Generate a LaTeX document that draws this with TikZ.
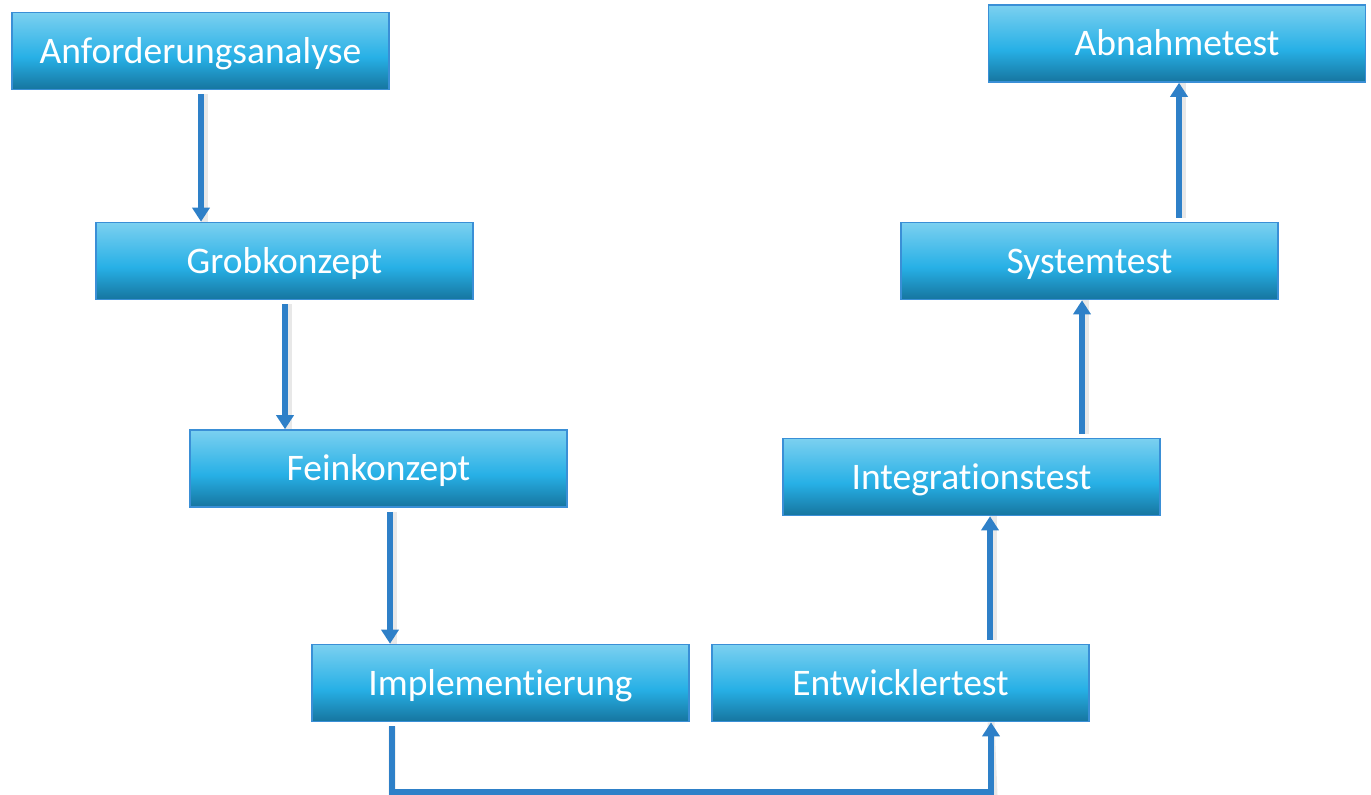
\documentclass[tikz,border=0pt]{standalone}
\usepackage{fontspec}
\setmainfont[Ligatures=NoCommon]{Carlito}
\usetikzlibrary{arrows.meta}
\definecolor{boxtop}{HTML}{7BD0F0}
\definecolor{boxmid}{HTML}{27B0E6}
\definecolor{boxbot}{HTML}{16759F}
\definecolor{boxline}{HTML}{3A8FD6}
\definecolor{flow}{HTML}{2E80C8}
% vertical fill of the stage boxes: light top, bright middle, darker base
\pgfdeclareverticalshading{stagefill}{100bp}{color(0bp)=(boxbot); color(25bp)=(boxbot);
  color(46bp)=(boxmid); color(75bp)=(boxtop); color(100bp)=(boxtop)}
\tikzset{
  stage/.style={rectangle, minimum width=377pt, minimum height=77pt,
    inner sep=0pt, draw=boxline, line width=1.6pt,
    shading=stagefill,
    text=white, font=\fontsize{37.5}{44}\selectfont,
    text height=32pt, text depth=8pt},
  flowline/.style={draw=flow, line width=5.5pt,
    -{Triangle[width=17pt,length=14pt]}},
  flowshade/.style={draw=black!45, line width=7pt, opacity=0.2}
}
\begin{document}
\begin{tikzpicture}[x=1pt,y=-1pt]
\useasboundingbox (0,0) rectangle (1371,795);

\node[stage] (anf) at (200.5,51) {Anforderungsanalyse};
\node[stage] (grob) at (284.5,261) {Grobkonzept};
\node[stage] (fein) at (378.5,468.5) {Feinkonzept};
\node[stage] (impl) at (500.5,683) {Implementierung};
\node[stage] (entw) at (900.5,683) {Entwicklertest};
\node[stage] (integ) at (971.5,477) {Integrationstest};
\node[stage] (sys) at (1089.5,261) {Systemtest};
\node[stage] (abn) at (1177,43.5) {Abnahmetest};

\coordinate (c1) at (impl.south -| 392,0);
\coordinate (c2) at (entw.south -| 991,0);

% soft shadows beside the connectors
\begin{scope}[shift={(3,3)}]
  \draw[flowshade] (anf.south -| 201,0) ++(0,4) -- (grob.north -| 201,0);
  \draw[flowshade] (grob.south -| 285,0) ++(0,4) -- (fein.north -| 285,0);
  \draw[flowshade] (fein.south -| 390,0) ++(0,4) -- (impl.north -| 390,0);
  \draw[flowshade] (c1) ++(0,4) |- (991,792) -- (c2);
  \draw[flowshade] (entw.north -| 990,0) ++(0,-4) -- (integ.south -| 990,0);
  \draw[flowshade] (integ.north -| 1082,0) ++(0,-4) -- (sys.south -| 1082,0);
  \draw[flowshade] (sys.north -| 1179,0) ++(0,-4) -- (abn.south -| 1179,0);
\end{scope}

% connectors
\draw[flowline] (anf.south -| 201,0) ++(0,4) -- (grob.north -| 201,0);
\draw[flowline] (grob.south -| 285,0) ++(0,4) -- (fein.north -| 285,0);
\draw[flowline] (fein.south -| 390,0) ++(0,4) -- (impl.north -| 390,0);
\draw[flowline] (c1) ++(0,4) |- (991,792) -- (c2);
\draw[flowline] (entw.north -| 990,0) ++(0,-4) -- (integ.south -| 990,0);
\draw[flowline] (integ.north -| 1082,0) ++(0,-4) -- (sys.south -| 1082,0);
\draw[flowline] (sys.north -| 1179,0) ++(0,-4) -- (abn.south -| 1179,0);
\end{tikzpicture}
\end{document}
